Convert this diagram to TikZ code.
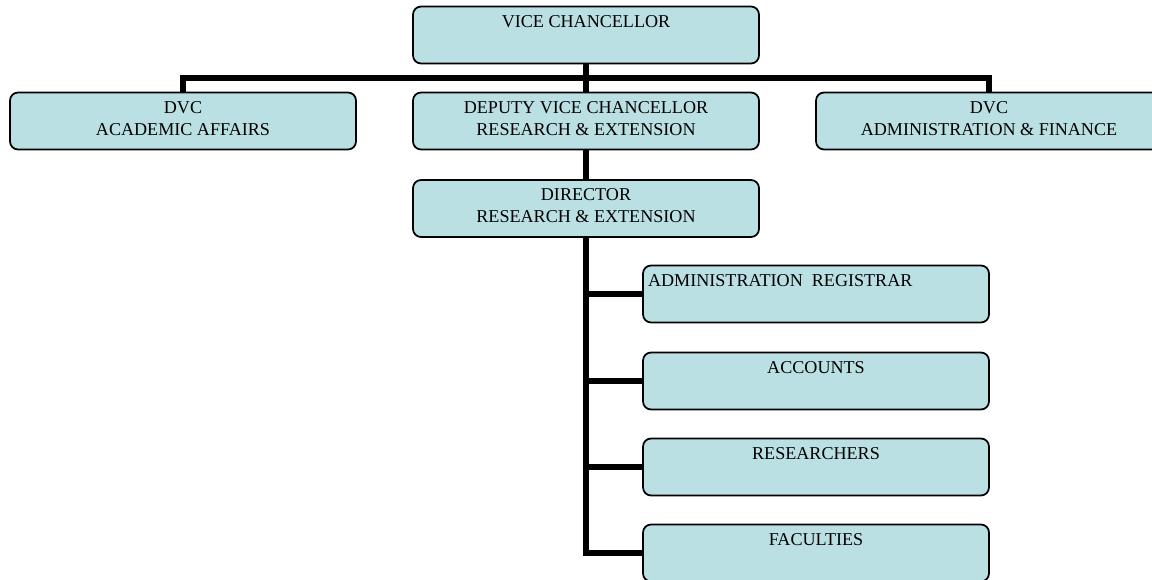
\documentclass[tikz,border=0pt]{standalone}
\usepackage{fontspec}
\setmainfont{Liberation Serif}
\usetikzlibrary{calc}

\definecolor{boxfill}{RGB}{187,224,227}
% stacked lines, baseline on the first one
\newcommand{\twolines}[2]{\begin{tabular}[t]{@{}c@{}}#1\\#2\end{tabular}}

\begin{document}
\begin{tikzpicture}[x=0.02cm,y=-0.02cm,
    post/.style={rectangle, rounded corners=0.16cm, draw=black, line width=1pt, fill=boxfill,
        minimum width=6.92cm, inner xsep=0.1cm, inner ysep=0.1cm,
        text height=0.32cm, text depth=0.62cm,
        font=\fontsize{10.3}{12.5}\selectfont},
    link/.style={draw=black, line width=3.1pt}]
    \useasboundingbox (0,0) rectangle (1152,580);

    % top level
    \node[post] (vc) at (586,35) {VICE CHANCELLOR};

    % deputies
    \node[post] (aa) at (183,121) {\twolines{DVC}{ACADEMIC AFFAIRS}};
    \node[post] (dvc) at (586,121) {\twolines{DEPUTY VICE CHANCELLOR}{RESEARCH \& EXTENSION}};
    \node[post] (af) at (989,121) {\twolines{DVC}{ADMINISTRATION \& FINANCE}};

    \node[post] (dir) at (586,208.5) {\twolines{DIRECTOR}{RESEARCH \& EXTENSION}};

    % units under the director
    \node[post] (reg) at (816,294) {\makebox[6.72cm][l]{ADMINISTRATION~~REGISTRAR}};
    \node[post] (acc) at (816,381) {ACCOUNTS};
    \node[post] (res) at (816,467) {RESEARCHERS};
    \node[post] (fac) at (816,553) {FACULTIES};

    \coordinate (bar) at (586,78);

    \draw[link] (vc.south) -- (dvc.north);
    \draw[link] (aa.north) -- (aa.north |- bar) -- (af.north |- bar) -- (af.north);
    \draw[link] (dvc.south) -- (dir.north);

    \draw[link] (dir.south) -- (dir.south |- fac.west) -- (fac.west);
    \foreach \unit in {reg,acc,res}
        \draw[link] (dir.south |- \unit.west) -- (\unit.west);

\end{tikzpicture}
\end{document}
